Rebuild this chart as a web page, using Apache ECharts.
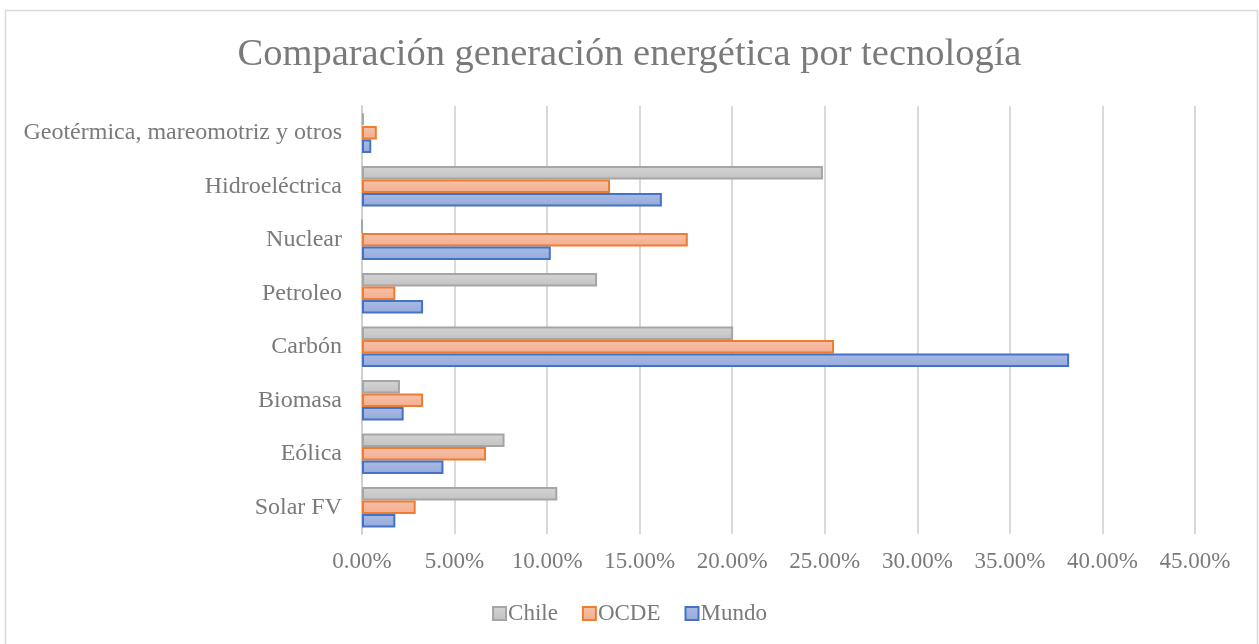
<!DOCTYPE html>
<html>
<head>
<meta charset="utf-8">
<script src="https://cdn.jsdelivr.net/npm/echarts@6/dist/echarts.min.js"></script>
<style>
  html, body { margin: 0; padding: 0; background: #fff; }
  #chart { width: 1259px; height: 644px; }
</style>
</head>
<body>
<div id="chart"></div>
<script>
// categories, bottom to top (as ECharts stacks a category yAxis)
const categories = ["Solar FV", "Eólica", "Biomasa", "Carbón", "Petroleo", "Nuclear", "Hidroeléctrica", "Geotérmica, mareomotriz y otros"]
const chile = [0.1055, 0.077, 0.0205, 0.2005, 0.127, 0, 0.249, 0.001]
const ocde  = [0.029, 0.067, 0.033, 0.255, 0.018, 0.176, 0.134, 0.008]
const mundo = [0.018, 0.044, 0.0225, 0.382, 0.033, 0.102, 0.162, 0.005]

const font = "Liberation Serif"
const textColor = "#7a7a7a"

function grad(top, bottom) {
  return new echarts.graphic.LinearGradient(0, 0, 0, 1, [
    { offset: 0, color: top }, { offset: 1, color: bottom }
  ])
}

function barSeries(name, data, fillTop, fillBottom, stroke) {
  return {
    name, type: "bar", data,
    barGap: "0%", barCategoryGap: "24%",
    itemStyle: { color: grad(fillTop, fillBottom), borderColor: stroke, borderWidth: 2 },
  }
}

const chart = echarts.init(document.getElementById("chart"))
chart.setOption({
  animation: false,
  title: {
    text: "Comparación generación energética por tecnología",
    left: "center", top: 30,
    textStyle: { fontFamily: font, fontSize: 38.5, fontWeight: "normal", color: textColor },
  },
  legend: {
    bottom: 14, left: "center", icon: "rect",
    data: ["Chile", "OCDE", "Mundo"],
    itemWidth: 13, itemHeight: 13, itemGap: 24,
    textStyle: { fontFamily: font, fontSize: 23, color: textColor, padding: [0, 0, 0, -3] },
  },
  grid: { left: 362, right: 64, top: 106, bottom: 110 },
  xAxis: {
    type: "value", min: 0, max: 0.45, interval: 0.05,
    axisLine: { show: false }, axisTick: { show: false },
    splitLine: { lineStyle: { color: "#d9d9d9", width: 2 } },
    axisLabel: {
      fontFamily: font, fontSize: 23, color: textColor, margin: 16,
      formatter: v => (v * 100).toFixed(2) + "%",
    },
  },
  yAxis: {
    type: "category", data: categories,
    axisLine: { lineStyle: { color: "#d0d0d0", width: 2 } },
    axisTick: { show: false },
    axisLabel: { fontFamily: font, fontSize: 24, color: textColor, margin: 20 },
  },
  series: [
    barSeries("Chile", chile, "#d4d4d4", "#c2c2c2", "#a5a5a5"),
    barSeries("OCDE", ocde, "#f7c2aa", "#f3ad8f", "#ed7d31"),
    barSeries("Mundo", mundo, "#a9bbe4", "#96aadb", "#4472c4"),
  ],
  graphic: [{
    type: "rect", silent: true,
    shape: { x: 5.5, y: 10.5, width: 1252, height: 640 },
    style: { fill: null, stroke: "#d9d9d9", lineWidth: 1.5 },
  }],
})
window.addEventListener("resize", () => chart.resize())
</script>
</body>
</html>
